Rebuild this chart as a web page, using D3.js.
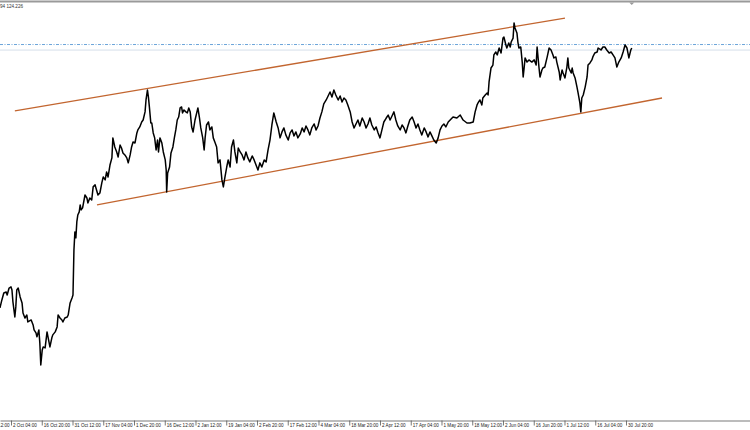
<!DOCTYPE html>
<html><head><meta charset="utf-8">
<script src="https://cdn.jsdelivr.net/npm/d3@7"></script>
<style>html,body{margin:0;padding:0;background:#fff;overflow:hidden}</style>
</head><body><svg id="c" width="750" height="430"></svg>
<script>
// ---- data (USDJPY H4, bar index -> close) ----
const headerText = "94 124.226";
const tickBars = [0,64,128,192,256,320,384,448,512,576,640,704,768,832,896,960,1024,1088,1152,1216,1280,1344];
const tickLabels = ["17 Sep 12:00","2 Oct 04:00","16 Oct 20:00","31 Oct 12:00","17 Nov 04:00","1 Dec 20:00","16 Dec 12:00","2 Jan 12:00","19 Jan 04:00","2 Feb 20:00","17 Feb 12:00","4 Mar 04:00","18 Mar 20:00","2 Apr 12:00","17 Apr 04:00","1 May 20:00","18 May 12:00","2 Jun 04:00","16 Jun 20:00","1 Jul 12:00","16 Jul 04:00","30 Jul 20:00"];

const bars = [
 41,45,49,54,56,60,64,66,68,72,74,76,79,83,87,89,93,97,99,106,110,112,116,118,122,124,126,129,131,135,139,141,145,149,151,156,160,162,166,170,172,176,181,183,187,191,193,
 195,197,199,201,203,206,208,210,213,
 218,222,224,228,232,235,239,242,245,249,
 253,256,260,263,266,270,274,276,280,284,
 287,291,294,297,301,305,308,312,315,318,
 322,326,328,332,336,339,343,345,348,350,
 352,355,357,360,363,366,369,371,374,378,
 381,385,387,388,390,394,397,401,404,407,
 410,413,416,419,421,424,428,431,434,437,
 440,443,447,451,453,456,459,463,466,468,
 471,475,478,482,485,489,492,495,499,503,
 506,509,513,516,520,523,527,530,534,537,
 541,
 545,549,553,557,561,566,570,574,578,582,
 586,591,595,599,603,607,611,616,620,624,
 628,632,636,641,645,649,653,657,661,666,
 670,674,678,682,686,690,695,699,703,707,
 711,715,720,724,728,732,736,740,745,749,
 753,757,761,765,770,774,778,782,786,790,
 795,799,803,807,811,815,820,824,828,832,
 836,840,845,849,853,857,861,865,869,874,
 878,882,886,890,894,899,903,907,911,915,
 919,924,928,932,936,940,944,949,953,957,
 961,965,969,974,
 978,984,992,999,1005,1013,1019,1026,1030,1034,
 1036,1040,1044,1046,1051,1055,1057,1059,1063,1067,
 1069,1073,1076,1080,1084,1088,1090,1094,1096,1100,
 1103,1105,1109,1111,1113,1117,1119,1121,1125,1128,
 1130,1132,1134,1138,1142,1148,1153,1157,1159,1163,
 1165,1169,1171,1175,1180,1184,1188,1192,1194,1198,
 1200,1205,1207,1211,1213,1217,1221,1223,1225,1230,
 1232,1234,1238,1242,1244,1248,1250,1252,1255,1259,
 1263,1265,1269,1273,1275,1279,1284,1286,1292,1296,
 1300,1304,1309,1313,1317,1321,1325,1329,1334,1338,
 1342,1346,1348,1350,1354,1356
];
const closes = [
 108.65,109.13,109.55,109.61,109.43,109.85,109.92,109.73,109.01,108.10,108.71,109.73,109.85,109.31,108.95,108.34,108.04,108.22,107.80,107.92,107.62,107.32,107.14,106.90,107.32,106.53,105.20,106.11,106.29,106.23,107.20,106.90,106.29,106.84,107.02,107.20,107.50,108.22,108.04,107.92,107.80,108.04,108.10,108.22,108.95,109.25,109.43,
 112.15,113.24,112.88,113.84,114.26,114.45,114.87,114.57,114.69,
 115.47,115.29,114.99,115.29,115.17,115.96,116.08,115.77,115.47,115.59,
 116.20,116.56,116.38,116.86,116.56,117.28,117.71,118.92,118.37,118.07,
 117.77,118.49,118.31,118.01,117.89,117.71,117.41,117.89,118.37,118.67,
 118.61,119.22,119.40,119.58,119.88,120.00,120.49,121.21,121.81,121.39,
 120.79,119.82,119.82,119.22,118.92,118.19,118.79,118.07,118.92,118.61,
 118.07,117.59,116.98,115.65,116.80,117.16,118.01,118.37,118.92,119.40,
 120.00,120.18,120.73,120.79,120.43,120.61,120.49,120.43,120.73,120.49,
 119.58,119.28,120.00,120.49,120.73,120.18,119.52,118.92,118.19,118.92,
 119.70,119.88,119.40,119.58,118.92,118.61,118.37,117.41,117.59,116.38,
 115.96,116.50,117.16,117.59,117.16,118.37,118.79,118.07,117.41,118.31,
 118.07,
 117.89,117.59,118.07,117.71,117.47,117.83,117.59,117.28,116.98,117.41,
 117.16,117.59,117.47,118.19,118.79,119.70,120.43,119.88,119.52,118.92,
 119.28,119.52,119.10,118.79,119.22,119.40,119.04,119.28,118.92,119.16,
 119.52,119.28,119.64,119.40,119.10,119.52,119.76,119.40,119.64,120.12,
 120.49,120.97,121.21,121.45,121.69,121.39,121.81,121.51,121.21,121.45,
 121.09,121.33,121.21,120.91,120.49,119.88,119.52,119.76,120.00,119.64,
 120.12,119.88,119.52,119.76,120.12,119.70,119.40,119.58,119.22,118.92,
 119.40,119.88,120.12,120.30,120.00,120.24,120.49,120.00,119.64,119.40,
 119.70,119.52,119.22,119.64,120.00,120.18,119.88,119.52,119.76,119.40,
 119.10,119.52,119.28,118.98,119.28,119.04,118.79,118.61,118.92,119.40,
 119.64,119.76,119.58,119.88,
 120.00,120.18,120.12,120.30,120.00,119.82,119.82,119.88,120.49,120.91,
 121.03,121.21,120.91,121.33,121.51,121.63,121.51,122.30,123.14,123.32,
 123.93,124.11,123.93,124.35,124.05,124.95,125.01,124.53,124.35,124.65,
 124.41,124.71,124.95,125.86,125.56,125.26,124.71,124.35,124.41,123.50,
 122.60,123.14,123.75,123.50,123.63,123.50,123.63,123.32,124.41,123.14,
 122.60,123.02,123.14,123.20,123.81,124.35,124.23,123.93,123.75,123.81,
 123.50,122.90,122.42,123.02,122.84,122.54,123.20,123.75,123.14,122.84,
 123.14,122.84,122.54,121.99,121.69,121.03,120.49,121.33,121.51,121.99,
 122.60,123.32,123.45,123.63,123.81,124.05,124.11,124.35,124.23,124.41,
 124.41,124.23,124.05,124.11,123.93,123.75,123.20,123.50,123.75,124.11,
 124.53,124.35,124.05,123.75,124.23,124.35
];
const upperChannelBars = [72, 1217];
const upperChannelPrices = [120.55, 126.16];
const lowerChannelBars = [243, 1419];
const lowerChannelPrices = [114.87, 121.33];
const bidPrice = 124.226;
const levelPrice = 124.56;

// ---- layout ----
const W = 750, H = 430, axisY = 420.5;
const svg = d3.select("#c");
const x = d3.scaleLinear().domain([41.1, 1602.1]).range([0, W]);
const y = d3.scaleLinear().domain([d3.min(closes), d3.max(closes)]).range([365, 23]);
const FONT = "'Liberation Sans', Arial, sans-serif";

// top frame
svg.append("line").attr("x1",0).attr("x2",W).attr("y1",1.5).attr("y2",1.5)
  .attr("stroke","#9a9a9a").attr("stroke-width",2);
svg.append("text").attr("x",0).attr("y",7.6).text(headerText)
  .attr("font-family",FONT).attr("font-size",4.6).attr("fill","#333");

// horizontal levels
svg.append("line").attr("x1",0).attr("x2",W).attr("y1",y(levelPrice)).attr("y2",y(levelPrice))
  .attr("stroke","#5b9bd5").attr("stroke-width",0.9).attr("stroke-dasharray","3,1.5,1,1.5");
svg.append("line").attr("x1",0).attr("x2",W).attr("y1",y(bidPrice)).attr("y2",y(bidPrice))
  .attr("stroke","#c9d6e3").attr("stroke-width",0.8);

// chart shift marker
const sx = x(bars[bars.length-1]);
svg.append("path").attr("d",`M${sx-2.5},2.5L${sx+2.5},2.5L${sx},5Z`).attr("fill","#9a9a9a");

// channel lines
const ch = [[upperChannelBars, upperChannelPrices],[lowerChannelBars, lowerChannelPrices]];
ch.forEach(([b,p]) => {
  svg.append("line").attr("x1",x(b[0])).attr("y1",y(p[0])).attr("x2",x(b[1])).attr("y2",y(p[1]))
    .attr("stroke","#c2652f").attr("stroke-width",1.3);
});

// price series
const pts = bars.map((b,i)=>[b, closes[i]]);
svg.append("path").datum(pts)
  .attr("d", d3.line().x(d=>x(d[0])).y(d=>y(d[1])))
  .attr("fill","none").attr("stroke","#000").attr("stroke-width",1.5).attr("stroke-linejoin","round");

// x axis
const ax = svg.append("g").attr("transform",`translate(0,${axisY})`)
  .call(d3.axisBottom(x).tickValues(tickBars).tickFormat((d,i)=>tickLabels[i]).tickSize(5).tickSizeOuter(0));
ax.select(".domain").attr("stroke","#7a7a7a").attr("stroke-width",1.2);
ax.selectAll(".tick line").attr("stroke","#555").attr("stroke-width",0.8);
ax.selectAll(".tick text").attr("text-anchor","start").attr("x",1.5).attr("y",6).attr("dy",0)
  .attr("font-family",FONT).attr("font-size",4.6).attr("fill","#222");
</script></body></html>
